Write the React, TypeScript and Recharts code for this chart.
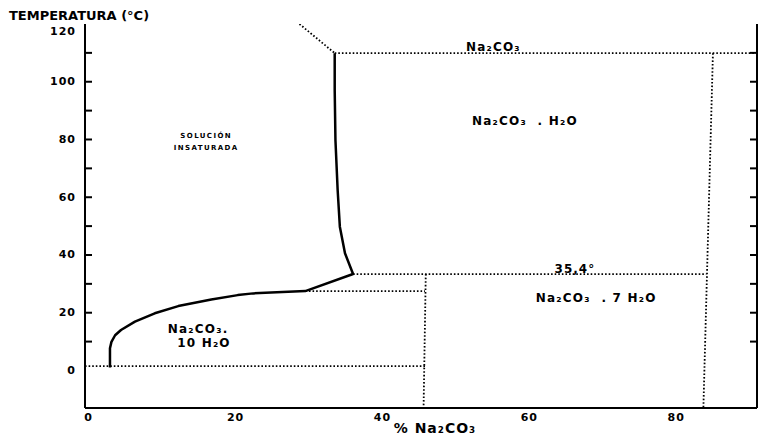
import { ComposedChart, Line, Scatter, XAxis, YAxis } from 'recharts';

const FONT = '"DejaVu Sans", sans-serif';

// axes
const xTicks = [0, 20, 40, 60, 80];
const yTicks = [0, 10, 20, 30, 40, 50, 60, 70, 80, 90, 100, 110, 120];
const rightTicks = [10, 20, 30, 40, 50, 60, 70, 80, 90, 100, 110];

// solid solubility curve (10 H2O branch, 7 H2O branch, 1 H2O branch)
const solubilityCurve = [
    { x: 2.9, y: 1.0 },
    { x: 2.9, y: 7.7 },
    { x: 3.1, y: 9.9 },
    { x: 3.6, y: 12.2 },
    { x: 4.4, y: 14.0 },
    { x: 6.3, y: 16.9 },
    { x: 9.0, y: 19.8 },
    { x: 12.2, y: 22.3 },
    { x: 16.7, y: 24.6 },
    { x: 20.3, y: 26.1 },
    { x: 22.4, y: 26.7 },
    { x: 29.5, y: 27.5 },
    { x: 36.0, y: 33.4 },
    { x: 34.9, y: 40.6 },
    { x: 34.2, y: 49.8 },
    { x: 33.9, y: 62.5 },
    { x: 33.6, y: 79.8 },
    { x: 33.5, y: 97.1 },
    { x: 33.5, y: 109.9 },
];

// dotted boundaries
const topDiagonal = [
    { x: 28.7, y: 120 },
    { x: 33.5, y: 109.9 },
];
const anhydrousLine = [
    { x: 33.5, y: 109.9 },
    { x: 91, y: 109.9 },
];
const rightVertical = [
    { x: 85.0, y: 109.9 },
    { x: 83.7, y: -13 },
];
const line354 = [
    { x: 36.0, y: 33.4 },
    { x: 84.1, y: 33.4 },
];
const line32 = [
    { x: 29.5, y: 27.5 },
    { x: 45.8, y: 27.5 },
];
const midVertical = [
    { x: 45.9, y: 33.4 },
    { x: 45.6, y: -13 },
];
const zeroLine = [
    { x: -0.5, y: 1.5 },
    { x: 45.8, y: 1.5 },
];

// region texts
const phaseLabels = [
    { x: 55.1, y: 112.2, text: 'Na₂CO₃' },
    { x: 59.4, y: 86.4, text: 'Na₂CO₃  . H₂O' },
    { x: 69.1, y: 25.1, text: 'Na₂CO₃  . 7 H₂O' },
    { x: 14.9, y: 14.4, text: 'Na₂CO₃.' },
    { x: 15.7, y: 9.5, text: '10 H₂O' },
];
const regionLabels = [
    { x: 16.0, y: 81.2, text: 'SOLUCIÓN' },
    { x: 16.0, y: 77.0, text: 'INSATURADA' },
];
const transitionLabels = [{ x: 66.2, y: 35.1, text: '35,4°' }];

const dotted = { stroke: '#000', strokeWidth: 1.8, strokeDasharray: '1.6 2' };

const LeftTick = (props: any) => {
    const { x, y, payload } = props;
    const v = payload.value;
    return (
        <g>
            {v > 0 && v < 120 && (
                <line x1={x} x2={x + 7} y1={y} y2={y} stroke="#000" strokeWidth={2} />
            )}
            {v % 20 === 0 && (
                <text
                    x={x - 9}
                    y={v === 120 ? y + 7 : y}
                    textAnchor="end"
                    dominantBaseline="central"
                    fontFamily={FONT}
                    fontWeight={700}
                    fontSize={11}
                    letterSpacing={1}
                    fill="#000"
                >
                    {v}
                </text>
            )}
        </g>
    );
};

const RightTick = (props: any) => {
    const { x, y } = props;
    return <line x1={x} x2={x - 7} y1={y} y2={y} stroke="#000" strokeWidth={2} />;
};

const BottomTick = (props: any) => {
    const { x, y, payload } = props;
    return (
        <text
            x={x}
            y={y + 9}
            textAnchor="middle"
            dominantBaseline="central"
            fontFamily={FONT}
            fontWeight={700}
            fontSize={11}
            letterSpacing={1}
            fill="#000"
        >
            {payload.value}
        </text>
    );
};

const makeTextShape = (fontSize: number, spacing: number) => (props: any) => {
    const { cx, cy, payload } = props;
    return (
        <text
            x={cx}
            y={cy}
            textAnchor="middle"
            dominantBaseline="central"
            fontFamily={FONT}
            fontWeight={700}
            fontSize={fontSize}
            letterSpacing={spacing}
            fill="#000"
            style={{ whiteSpace: 'pre' }}
        >
            {payload.text}
        </text>
    );
};

export default function App() {
    return (
        <div style={{ position: 'absolute', left: 0, top: 0, width: 760, height: 438, background: '#fff' }}>
            <ComposedChart width={760} height={438} margin={{ top: 24, right: 0, bottom: 0, left: 0 }}>
                <XAxis
                    dataKey="x"
                    type="number"
                    domain={[-0.5, 91]}
                    allowDataOverflow
                    ticks={xTicks}
                    height={30}
                    tickSize={0}
                    tickMargin={0}
                    tick={<BottomTick />}
                    axisLine={{ stroke: '#000', strokeWidth: 2 }}
                    label={{
                        value: '% Na₂CO₃',
                        content: (p: any) => (
                            <text
                                x={p.viewBox.x + p.viewBox.width / 2 + 14}
                                y={p.viewBox.y + 20}
                                textAnchor="middle"
                                dominantBaseline="central"
                                fontFamily={FONT}
                                fontWeight={700}
                                fontSize={14}
                                letterSpacing={1}
                                fill="#000"
                            >
                                % Na₂CO₃
                            </text>
                        ),
                    }}
                />
                <XAxis
                    xAxisId="top"
                    orientation="top"
                    type="number"
                    domain={[-0.5, 91]}
                    allowDataOverflow
                    height={0}
                    tick={false}
                    tickLine={false}
                    axisLine={{ stroke: '#000', strokeWidth: 2 }}
                />
                <YAxis
                    yAxisId="t"
                    type="number"
                    domain={[-13, 120]}
                    allowDataOverflow
                    ticks={yTicks}
                    width={85}
                    tickSize={0}
                    tickMargin={0}
                    tick={<LeftTick />}
                    axisLine={{ stroke: '#000', strokeWidth: 2 }}
                    label={{
                        value: 'TEMPERATURA (°C)',
                        content: (p: any) => (
                            <text
                                x={p.viewBox.x + 9}
                                y={p.viewBox.y - 9}
                                dominantBaseline="central"
                                fontFamily={FONT}
                                fontWeight={700}
                                fontSize={13}
                                fill="#000"
                            >
                                TEMPERATURA (°C)
                            </text>
                        ),
                    }}
                />
                <YAxis
                    yAxisId="r"
                    orientation="right"
                    type="number"
                    domain={[-13, 120]}
                    allowDataOverflow
                    ticks={rightTicks}
                    width={3}
                    tickSize={0}
                    tickMargin={0}
                    tick={<RightTick />}
                    axisLine={{ stroke: '#000', strokeWidth: 2 }}
                />

                {/* dotted phase boundaries */}
                <Line yAxisId="t" data={topDiagonal} dataKey="y" type="linear" dot={false} {...dotted} isAnimationActive={false} />
                <Line yAxisId="t" data={anhydrousLine} dataKey="y" type="linear" dot={false} {...dotted} isAnimationActive={false} />
                <Line yAxisId="t" data={rightVertical} dataKey="y" type="linear" dot={false} {...dotted} isAnimationActive={false} />
                <Line yAxisId="t" data={line354} dataKey="y" type="linear" dot={false} {...dotted} isAnimationActive={false} />
                <Line yAxisId="t" data={line32} dataKey="y" type="linear" dot={false} {...dotted} isAnimationActive={false} />
                <Line yAxisId="t" data={midVertical} dataKey="y" type="linear" dot={false} {...dotted} isAnimationActive={false} />
                <Line yAxisId="t" data={zeroLine} dataKey="y" type="linear" dot={false} {...dotted} isAnimationActive={false} />

                {/* solubility curve */}
                <Line
                    yAxisId="t"
                    data={solubilityCurve}
                    dataKey="y"
                    type="linear"
                    dot={false}
                    stroke="#000"
                    strokeWidth={2.5}
                    strokeLinejoin="round"
                    isAnimationActive={false}
                />

                {/* texts */}
                <Scatter yAxisId="t" data={phaseLabels} dataKey="y" shape={makeTextShape(12, 1.2)} isAnimationActive={false} />
                <Scatter yAxisId="t" data={regionLabels} dataKey="y" shape={makeTextShape(7, 1.4)} isAnimationActive={false} />
                <Scatter yAxisId="t" data={transitionLabels} dataKey="y" shape={makeTextShape(12, 1)} isAnimationActive={false} />
            </ComposedChart>
        </div>
    );
}
